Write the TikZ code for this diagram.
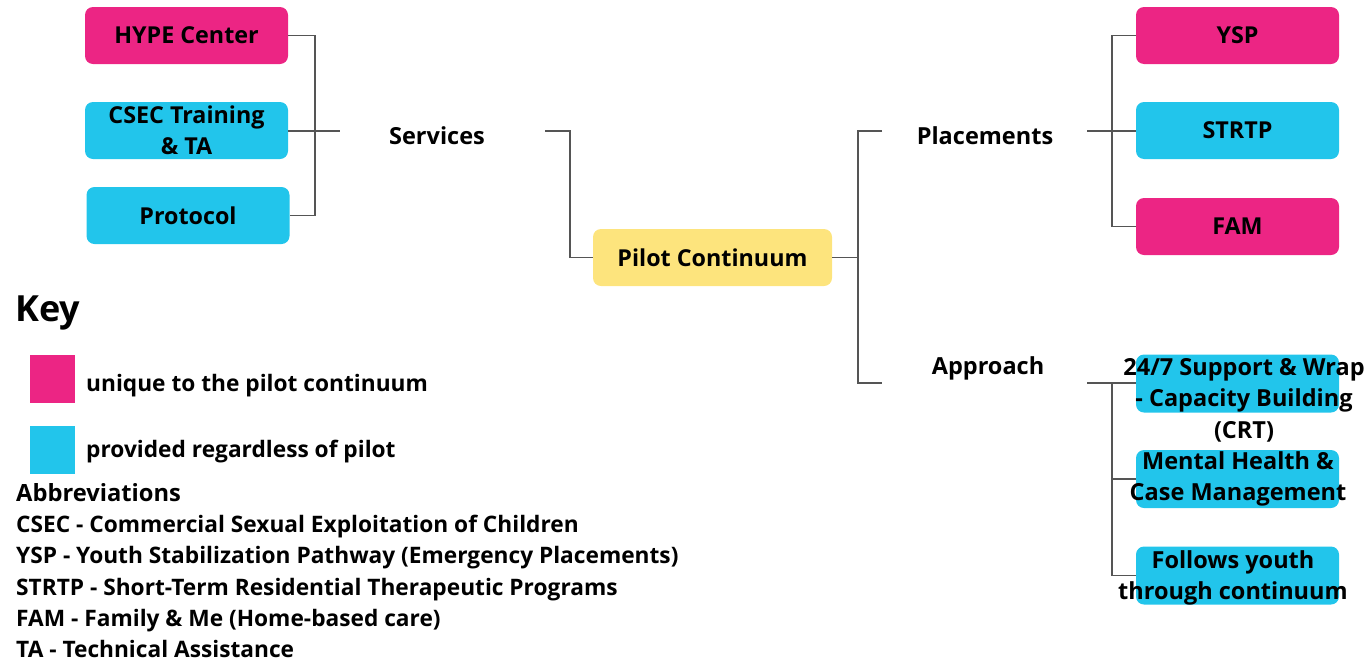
\documentclass[tikz,border=0pt]{standalone}
\usepackage{fontspec}
\setmainfont{Open Sans}
\usetikzlibrary{calc}
\definecolor{pinkc}{RGB}{236,37,132}
\definecolor{cyanc}{RGB}{34,197,235}
\definecolor{yelc}{RGB}{253,228,125}
\definecolor{linec}{RGB}{85,85,85}
\tikzset{
  box/.style={rounded corners=8pt, minimum width=203pt, minimum height=57pt, inner sep=0pt, align=center, font=\fontsize{23.3}{31.5}\selectfont\bfseries},
  pinkbox/.style={box, fill=pinkc},
  cyanbox/.style={box, fill=cyanc},
  hub/.style={inner sep=0pt, font=\fontsize{23.5}{31}\selectfont\bfseries},
  btext/.style={inner sep=0pt, align=center, font=\fontsize{23.5}{31.5}\selectfont\bfseries},
  conn/.style={draw=linec, line width=1.8pt},
  keytext/.style={anchor=base west, inner sep=0pt, font=\fontsize{22.7}{24}\selectfont\bfseries},
}
\begin{document}
\begin{tikzpicture}[x=1pt,y=-1pt]
\useasboundingbox (0,0) rectangle (1371,662);
% left boxes
\node[pinkbox] (hype) at (186.5,35.5) {HYPE Center};
\node[cyanbox] (csec) at (186.5,130.5) {CSEC Training\\\& TA};
\node[cyanbox] (prot) at (188,215.5) {Protocol};
% hubs
\node[hub] (serv) at (437,136) {Services};
\coordinate (servL) at (340,131);
\coordinate (servR) at (545,131);
\node[box, fill=yelc, minimum width=239pt] (pilot) at (712.5,257.5) {Pilot Continuum};
\node[hub] (plc) at (985,136) {Placements};
\coordinate (plcL) at (882,131);
\coordinate (plcR) at (1087,131);
\node[hub] (appr) at (988,368) {Approach};
\coordinate (apin) at (882,383);
\coordinate (apout) at (1087,383);
% right boxes
\node[pinkbox] (ysp) at (1237.5,35.5) {YSP};
\node[cyanbox] (strtp) at (1237.5,130.5) {STRTP};
\node[pinkbox] (fam) at (1237.5,226.5) {FAM};
\node[cyanbox, minimum height=58pt] (a1) at (1237.5,383.5) {};
\node[btext] (a1t) at (1244,400) {24/7 Support \& Wrap\\- Capacity Building\\(CRT)};
\node[cyanbox, minimum height=58pt] (a2) at (1237.5,479) {};
\node[btext] (a2t) at (1238,479) {Mental Health \&\\Case Management};
\node[cyanbox, minimum height=58pt] (a3) at (1237.5,575.5) {};
\node[btext] (a3t) at (1233,578) {Follows youth\\through continuum};
% connectors
\draw[conn] (hype.east) -- ++(27,0) |- (prot.east);
\draw[conn] (csec.east |- servL) -- (servL);
\draw[conn] (servR) -- ++(25,0) |- (pilot.west);
\draw[conn] (pilot.east) -- ++(26,0) coordinate (pj);
\draw[conn] (plcL) -- ++(-24,0) |- (apin);
\draw[conn] (plcR) -- (plcR -| strtp.west);
\draw[conn] (ysp.west) -- ++(-24,0) |- (fam.west);
\draw[conn] (apout) -- (apout -| a1.west);
\draw[conn] ([xshift=25pt]apout) |- (a3.west);
\draw[conn] ([xshift=25pt]apout |- a2.west) -- (a2.west);
% key
\node[anchor=base west, inner sep=0pt, font=\fontsize{36}{40}\selectfont\bfseries] (key) at (15,321) {Key};
\node[fill=pinkc, minimum width=45pt, minimum height=48pt, inner sep=0pt] (kp) at (52.5,379) {};
\node[fill=cyanc, minimum width=45pt, minimum height=48pt, inner sep=0pt] (kc) at (52.5,450) {};
\node[keytext] (kpt) at (86,391) {unique to the pilot continuum};
\node[keytext] (kct) at (86,457) {provided regardless of pilot};
\node[anchor=base west, inner sep=0pt, font=\fontsize{23.7}{26}\selectfont\bfseries] (abh) at (16,501) {Abbreviations};
\node[keytext] (ab1) at (16,532) {CSEC - Commercial Sexual Exploitation of Children};
\node[keytext] (ab2) at (16,563) {YSP - Youth Stabilization Pathway (Emergency Placements)};
\node[keytext] (ab3) at (16,595) {STRTP - Short-Term Residential Therapeutic Programs};
\node[keytext] (ab4) at (16,626) {FAM - Family \& Me (Home-based care)};
\node[keytext] (ab5) at (16,657) {TA - Technical Assistance};
\end{tikzpicture}
\end{document}
